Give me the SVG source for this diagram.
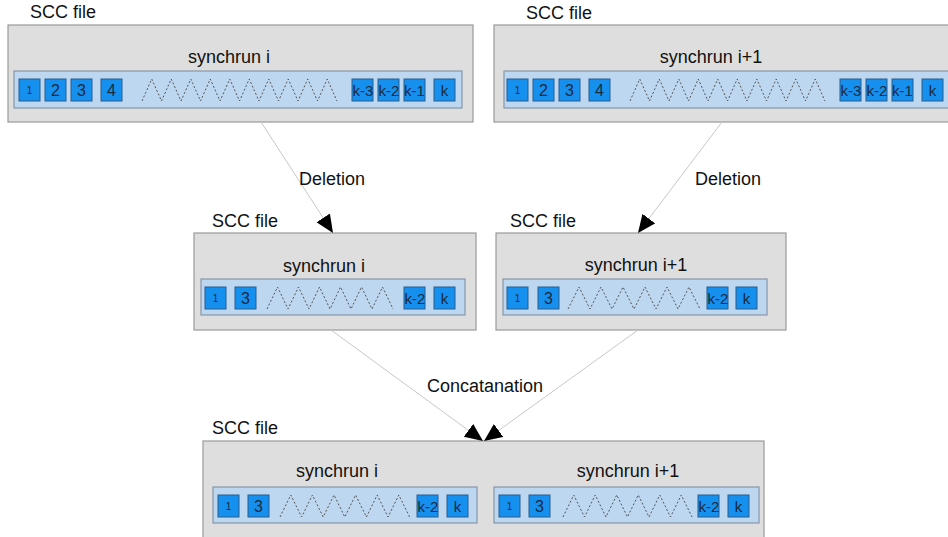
<svg xmlns="http://www.w3.org/2000/svg" width="948" height="537" viewBox="0 0 948 537">
  <defs>
    <marker id="arrow" markerUnits="userSpaceOnUse" markerWidth="19" markerHeight="17" refX="18" refY="8" orient="auto">
      <path d="M0,0 L18,8 L0,16 z" fill="#000"/>
    </marker>
    <style>
      text { font-family: "Liberation Sans", Arial, sans-serif; fill: #111; }
      .file { fill: #dedede; stroke: #9a9a9a; stroke-width: 1.2; }
      .bar { fill: #bdd7f1; stroke: #8696a8; stroke-width: 1.2; }
      .blk { fill: #1590ee; stroke: #2b5d8c; stroke-width: 1; }
      .zig { fill: none; stroke: #555; stroke-width: 1; stroke-dasharray: 2 2; }
      .title { font-size: 18px; }
      .name { font-size: 18px; text-anchor: middle; }
      .num { font-size: 16px; text-anchor: middle; fill: #1a2a40; }
      .one { font-size: 10px; text-anchor: middle; fill: #1a2a40; }
      .kk { font-size: 15px; text-anchor: middle; fill: #1a2a40; }
      .edge { fill: none; stroke: #c8c8c8; stroke-width: 1; marker-end: url(#arrow); }
      .elabel { font-size: 18px; }
    </style>
  </defs>
  <rect width="948" height="537" fill="#fff"/>

  <!-- source file holding synchrun i -->
  <g id="file-a">
    <text class="title" x="30" y="18">SCC file</text>
    <rect class="file" x="8" y="25" width="465" height="97"/>
    <text class="name" x="229" y="63">synchrun i</text>
    <rect class="bar" x="14" y="71" width="448" height="37"/>
    <rect class="blk" x="19" y="79" width="21" height="22"/><text class="one" x="29.5" y="94">1</text>
    <rect class="blk" x="45" y="79" width="21" height="22"/><text class="num" x="55.5" y="96">2</text>
    <rect class="blk" x="71" y="79" width="21" height="22"/><text class="num" x="81.5" y="96">3</text>
    <rect class="blk" x="101" y="79" width="21" height="22"/><text class="num" x="111.5" y="96">4</text>
    <path class="zig" d="M142 101 l9.75 -22 9.75 22 l9.75 -22 9.75 22 l9.75 -22 9.75 22 l9.75 -22 9.75 22 l9.75 -22 9.75 22 l9.75 -22 9.75 22 l9.75 -22 9.75 22 l9.75 -22 9.75 22 l9.75 -22 9.75 22 l9.75 -22 9.75 22"/>
    <rect class="blk" x="352" y="79" width="21" height="22"/><text class="kk" x="363" y="95.5">k-3</text>
    <rect class="blk" x="378" y="79" width="21" height="22"/><text class="kk" x="389" y="95.5">k-2</text>
    <rect class="blk" x="404" y="79" width="21" height="22"/><text class="kk" x="414.5" y="95.5">k-1</text>
    <rect class="blk" x="434" y="79" width="21" height="22"/><text class="kk" x="444.5" y="95.5">k</text>
  </g>

  <!-- source file holding synchrun i+1 -->
  <g id="file-b">
    <text class="title" x="526" y="19">SCC file</text>
    <rect class="file" x="494" y="25" width="465" height="97"/>
    <text class="name" x="711" y="63">synchrun i+1</text>
    <rect class="bar" x="504" y="71" width="448" height="37"/>
    <rect class="blk" x="507" y="79" width="21" height="22"/><text class="one" x="517.5" y="94">1</text>
    <rect class="blk" x="533" y="79" width="21" height="22"/><text class="num" x="543.5" y="96">2</text>
    <rect class="blk" x="559" y="79" width="21" height="22"/><text class="num" x="569.5" y="96">3</text>
    <rect class="blk" x="589" y="79" width="21" height="22"/><text class="num" x="599.5" y="96">4</text>
    <path class="zig" d="M630 101 l9.75 -22 9.75 22 l9.75 -22 9.75 22 l9.75 -22 9.75 22 l9.75 -22 9.75 22 l9.75 -22 9.75 22 l9.75 -22 9.75 22 l9.75 -22 9.75 22 l9.75 -22 9.75 22 l9.75 -22 9.75 22 l9.75 -22 9.75 22"/>
    <rect class="blk" x="840" y="79" width="21" height="22"/><text class="kk" x="851" y="95.5">k-3</text>
    <rect class="blk" x="866" y="79" width="21" height="22"/><text class="kk" x="877" y="95.5">k-2</text>
    <rect class="blk" x="892" y="79" width="21" height="22"/><text class="kk" x="902.5" y="95.5">k-1</text>
    <rect class="blk" x="922" y="79" width="21" height="22"/><text class="kk" x="932.5" y="95.5">k</text>
  </g>

  <!-- synchrun i after deletion -->
  <g id="file-a-trimmed">
    <text class="title" x="212" y="227">SCC file</text>
    <rect class="file" x="194" y="233" width="282" height="97"/>
    <text class="name" x="324" y="272">synchrun i</text>
    <rect class="bar" x="201" y="279" width="264" height="36"/>
    <rect class="blk" x="205" y="287" width="21" height="22"/><text class="one" x="215.5" y="302">1</text>
    <rect class="blk" x="235" y="287" width="21" height="22"/><text class="num" x="245.5" y="304">3</text>
    <path class="zig" d="M267 309 l10.5 -22 10.5 22 l10.5 -22 10.5 22 l10.5 -22 10.5 22 l10.5 -22 10.5 22 l10.5 -22 10.5 22 l10.5 -22 10.5 22"/>
    <rect class="blk" x="404" y="287" width="21" height="22"/><text class="kk" x="415" y="303.5">k-2</text>
    <rect class="blk" x="434" y="287" width="21" height="22"/><text class="kk" x="444.5" y="303.5">k</text>
  </g>

  <!-- synchrun i+1 after deletion -->
  <g id="file-b-trimmed">
    <text class="title" x="510" y="227">SCC file</text>
    <rect class="file" x="496" y="233" width="290" height="97"/>
    <text class="name" x="636" y="271">synchrun i+1</text>
    <rect class="bar" x="503" y="279" width="264" height="36"/>
    <rect class="blk" x="507" y="287" width="21" height="22"/><text class="one" x="517.5" y="302">1</text>
    <rect class="blk" x="538" y="287" width="21" height="22"/><text class="num" x="548.5" y="304">3</text>
    <path class="zig" d="M568 309 l11 -22 11 22 l11 -22 11 22 l11 -22 11 22 l11 -22 11 22 l11 -22 11 22 l11 -22 11 22"/>
    <rect class="blk" x="707" y="287" width="21" height="22"/><text class="kk" x="718" y="303.5">k-2</text>
    <rect class="blk" x="736" y="287" width="21" height="22"/><text class="kk" x="746.5" y="303.5">k</text>
  </g>

  <!-- concatenated result -->
  <g id="file-merged">
    <text class="title" x="212" y="434">SCC file</text>
    <rect class="file" x="203" y="441" width="561" height="100"/>
    <text class="name" x="337" y="477">synchrun i</text>
    <text class="name" x="628" y="477">synchrun i+1</text>
    <rect class="bar" x="213" y="487" width="264" height="36"/>
    <rect class="blk" x="218" y="495" width="21" height="22"/><text class="one" x="228.5" y="510">1</text>
    <rect class="blk" x="248" y="495" width="21" height="22"/><text class="num" x="258.5" y="512">3</text>
    <path class="zig" d="M280 517 l10.8 -22 10.8 22 l10.8 -22 10.8 22 l10.8 -22 10.8 22 l10.8 -22 10.8 22 l10.8 -22 10.8 22 l10.8 -22 10.8 22"/>
    <rect class="blk" x="417" y="495" width="21" height="22"/><text class="kk" x="428" y="511.5">k-2</text>
    <rect class="blk" x="447" y="495" width="21" height="22"/><text class="kk" x="457.5" y="511.5">k</text>
    <rect class="bar" x="494" y="487" width="265" height="36"/>
    <rect class="blk" x="499" y="495" width="21" height="22"/><text class="one" x="509.5" y="510">1</text>
    <rect class="blk" x="529" y="495" width="21" height="22"/><text class="num" x="539.5" y="512">3</text>
    <path class="zig" d="M563 517 l10.75 -22 10.75 22 l10.75 -22 10.75 22 l10.75 -22 10.75 22 l10.75 -22 10.75 22 l10.75 -22 10.75 22 l10.75 -22 10.75 22"/>
    <rect class="blk" x="698" y="495" width="21" height="22"/><text class="kk" x="709" y="511.5">k-2</text>
    <rect class="blk" x="728" y="495" width="21" height="22"/><text class="kk" x="738.5" y="511.5">k</text>
  </g>

  <!-- connectors -->
  <g id="connectors">
    <path class="edge" d="M261 122 L333 233"/>
    <path class="edge" d="M722 122 L638 233"/>
    <path class="edge" d="M331 330 L483 441"/>
    <path class="edge" d="M638 330 L484 441"/>
    <text class="elabel" x="299" y="185">Deletion</text>
    <text class="elabel" x="695" y="185">Deletion</text>
    <text class="elabel" x="427" y="392">Concatanation</text>
  </g>
</svg>
